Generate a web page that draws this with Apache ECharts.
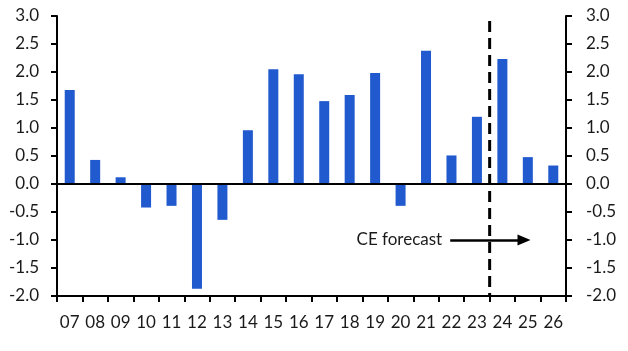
<!DOCTYPE html>
<html lang="en">
<head>
    <meta charset="UTF-8">
    <title>CE forecast bars</title>
    <script src="https://cdn.jsdelivr.net/npm/echarts@6.0.0/dist/echarts.min.js"></script>
    <style>
        html, body { margin: 0; padding: 0; background: #fff; }
    </style>
</head>
<body>
<div id="main" style="width:628px;height:351px;"></div>
<script>
    // years (2007 - 2026)
    const years = ['07', '08', '09', '10', '11', '12', '13', '14', '15', '16',
        '17', '18', '19', '20', '21', '22', '23', '24', '25', '26'];
    const values = [1.68, 0.43, 0.12, -0.42, -0.39, -1.87, -0.64, 0.96, 2.05, 1.96,
        1.48, 1.59, 1.98, -0.39, 2.38, 0.51, 1.20, 2.23, 0.48, 0.33];
    // forecast starts after this many categories
    const forecastBoundary = 17;
    // arrow annotation, in category units along x and value at y
    const arrowFrom = [15.45, -1.0];
    const arrowTo = [18.35, -1.0];
    const arrowText = 'CE forecast';

    const font = 'Lato, "Noto Sans", sans-serif';
    const fs = 17;
    const ink = '#1a1a1a';
    const barColor = '#2159cf';

    const chart = echarts.init(document.getElementById('main'));

    const yAxisBase = (pos, margin) => ({
        type: 'value',
        position: pos,
        min: -2,
        max: 3,
        interval: 0.5,
        splitLine: {show: false},
        axisLine: {show: true, onZero: false, lineStyle: {color: '#000', width: 2}},
        axisTick: {show: true, length: 6, lineStyle: {color: '#000', width: 2}},
        axisLabel: {
            color: ink, fontSize: fs, fontFamily: font, margin: margin,
            formatter: v => v.toFixed(1)
        }
    });

    const option = {
        backgroundColor: '#fff',
        animation: false,
        grid: {left: 57, right: 62, top: 16, bottom: 55},
        xAxis: [{
            type: 'category',
            data: years,
            position: 'bottom',
            axisLine: {onZero: false, lineStyle: {color: '#000', width: 2}},
            axisTick: {show: true, interval: 0, length: 6, lineStyle: {color: '#000', width: 2}},
            axisLabel: {color: ink, fontSize: fs, fontFamily: font, margin: 18, interval: 0}
        }, {
            type: 'value',
            min: 0,
            max: years.length,
            show: false
        }],
        yAxis: [yAxisBase('left', 18), yAxisBase('right', 20)],
        series: [{
            type: 'bar',
            data: values,
            barWidth: 10,
            itemStyle: {color: barColor},
            markLine: {
                silent: true,
                symbol: 'none',
                label: {show: false},
                lineStyle: {color: '#000', width: 2, type: 'solid'},
                data: [{yAxis: 0}]
            }
        }, {
            // forecast divider
            type: 'line',
            xAxisIndex: 1,
            symbol: 'none',
            lineStyle: {color: '#000', width: 3, type: [11, 6], dashOffset: -5},
            data: [[forecastBoundary, 3], [forecastBoundary, -2]],
            z: 5
        }, {
            type: 'line',
            xAxisIndex: 1,
            symbol: 'none',
            data: [],
            markLine: {
                silent: true,
                symbol: ['none', 'triangle'],
                symbolSize: [11, 13],
                lineStyle: {color: '#000', width: 2.5, type: 'solid'},
                label: {
                    show: true,
                    position: 'start',
                    formatter: arrowText,
                    color: ink,
                    fontSize: fs,
                    fontFamily: font,
                    distance: 8
                },
                data: [[{coord: arrowFrom}, {coord: arrowTo}]]
            },
            z: 6
        }]
    };

    chart.setOption(option);
</script>
</body>
</html>
